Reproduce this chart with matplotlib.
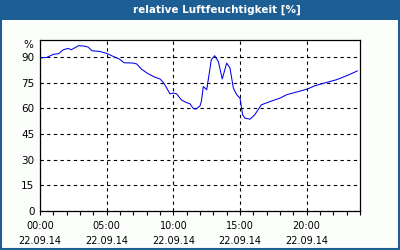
import matplotlib
matplotlib.use("Agg")
import matplotlib.pyplot as plt
import numpy as np

# data (hours since 00:00, relative humidity %)
hours = [0.0, 0.5, 1.0, 1.4, 1.75, 2.1, 2.35, 2.9, 3.25, 3.6, 3.9, 4.5, 5.05, 5.6, 5.95,
         6.3, 7.0, 7.25, 7.6, 8.1, 8.6, 9.0, 9.25, 9.5, 9.75, 10.0, 10.25, 10.6, 10.95,
         11.25, 11.5, 11.7, 12.0, 12.1, 12.25, 12.5, 12.6, 12.85, 13.1, 13.37, 13.67,
         14.0, 14.25, 14.5, 14.75, 15.0, 15.2, 15.37, 15.75, 16.1, 16.6, 17.25, 18.0,
         18.5, 19.4, 20.05, 20.6, 21.5, 22.25, 23.0, 23.8]
humidity = [89.5, 89.8, 91.6, 92.0, 94.3, 95.1, 94.3, 96.7, 96.5, 95.9, 93.7, 93.3, 92.0,
            90.0, 88.9, 86.7, 86.5, 86.0, 83.0, 80.3, 78.3, 77.2, 75.2, 71.9, 68.5, 69.0,
            68.5, 65.0, 63.5, 62.7, 59.9, 59.6, 61.5, 64.0, 72.8, 70.9, 75.8, 88.5, 90.8,
            87.5, 77.2, 86.5, 83.6, 71.9, 68.0, 66.0, 56.2, 54.3, 53.7, 56.2, 62.1, 64.0,
            66.0, 68.0, 69.9, 71.3, 73.2, 75.2, 76.8, 79.1, 81.9]
x_ticks = [0, 5, 10, 15, 20]
x_labels = ["00:00\n22.09.14", "05:00\n22.09.14", "10:00\n22.09.14",
            "15:00\n22.09.14", "20:00\n22.09.14"]
y_ticks = [0, 15, 30, 45, 60, 75, 90]
title = "relative Luftfeuchtigkeit [%]"

blue = "#1d5f95"
fig = plt.figure(figsize=(4, 2.5), dpi=100, facecolor="#fbfefb")

# title bar and frame
fig.patches.append(plt.Rectangle((0, 0.92), 1, 0.08, transform=fig.transFigure,
                                 facecolor=blue, edgecolor="none", zorder=0))
fig.patches.append(plt.Rectangle((0.002, 0.004), 0.996, 0.992, transform=fig.transFigure,
                                 facecolor="none", edgecolor=blue, linewidth=1.5, zorder=0))
fig.text(0.543, 0.962, title, color="white", fontsize=7.5, fontweight="bold",
         ha="center", va="center")

ax = fig.add_axes([0.1, 0.156, 0.8, 0.684])
ax.set_facecolor("white")
ax.plot(hours, humidity, color="#0000ee", linewidth=0.75)
ax.set_xlim(0, 24)
ax.set_ylim(0, 100)
ax.set_xticks(x_ticks)
ax.set_xticklabels(x_labels, fontsize=7, linespacing=1.7)
ax.set_xticks(np.arange(0, 25, 1), minor=True)
ax.set_yticks(y_ticks)
ax.set_yticklabels([str(v) for v in y_ticks], fontsize=7.5)
ax.tick_params(axis="x", which="major", length=3, width=0.8, pad=4)
ax.tick_params(axis="x", which="minor", length=3, width=0.8)
ax.tick_params(axis="y", length=0, pad=4)
ax.grid(True, which="major", color="black", linestyle=(0, (3, 3)), linewidth=0.8)
for s in ax.spines.values():
    s.set_color("black")
    s.set_linewidth(0.9)
ax.text(-0.02, 1.0, "%", transform=ax.transAxes, ha="right", va="top", fontsize=7.5)

fig.savefig("out.png", dpi=100, facecolor=fig.get_facecolor())
